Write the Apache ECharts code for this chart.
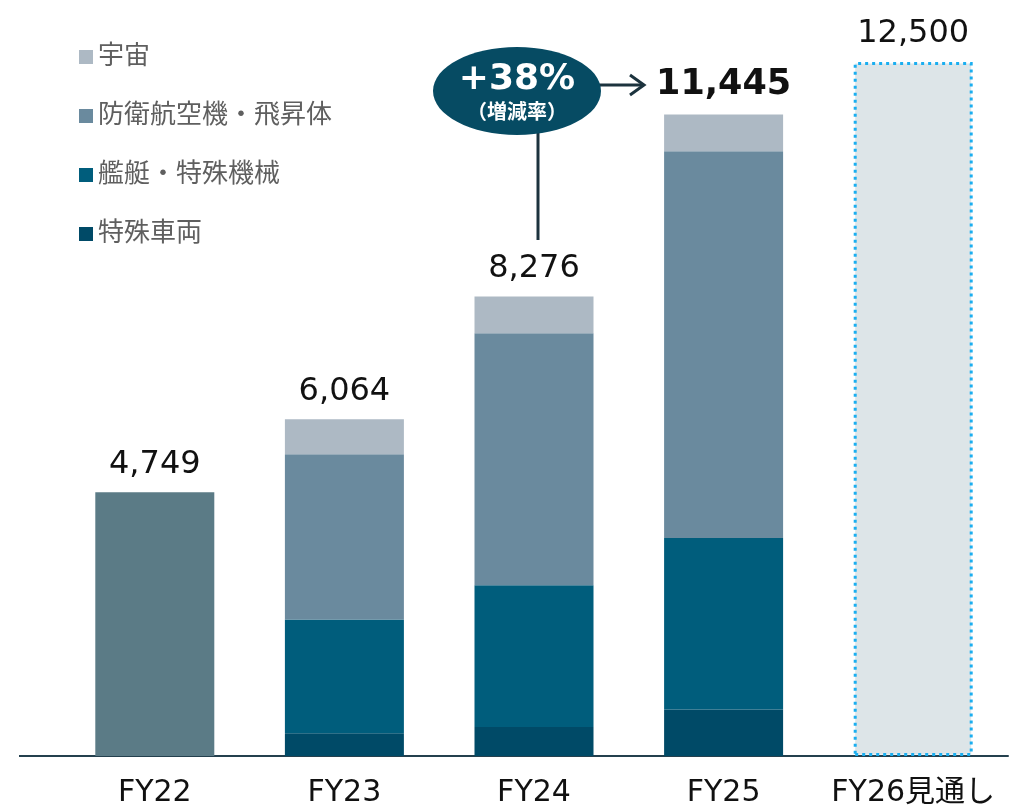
<!DOCTYPE html>
<html>
<head>
<meta charset="utf-8">
<script src="https://cdn.jsdelivr.net/npm/echarts@6/dist/echarts.min.js"></script>
<style>
  html, body { margin: 0; padding: 0; background: #fff; }
  #chart { width: 1010px; height: 806px; }
</style>
</head>
<body>
<div id="chart"></div>
<script>
// データ
var categories = ['FY22', 'FY23', 'FY24', 'FY25', 'FY26見通し'];
var tokushuSharyo = ['-', 411, 524, 838, '-'];     // 特殊車両
var kantei = ['-', 2049, 2553, 3087, '-'];         // 艦艇・特殊機械
var boei = ['-', 2974, 4540, 6969, '-'];           // 防衛航空機・飛昇体
var uchu = ['-', 631, 658, 661, '-'];              // 宇宙
var totalOnly = [4749, '-', '-', '-', 12500];      // 内訳なし
var totals = [4749, 6064, 8276, 11445, 12500];

var FONT = '"DejaVu Sans", "Noto Sans CJK JP", sans-serif';

function fmt(n) {
  return n.toLocaleString('en-US');
}

var myChart = echarts.init(document.getElementById('chart'));

var topLabel = {
  show: true,
  position: 'top',
  distance: 12,
  color: '#111',
  fontSize: 32,
  fontFamily: FONT,
  formatter: function (p) { return fmt(totals[p.dataIndex]); }
};

var option = {
  animation: false,
  textStyle: { fontFamily: FONT },
  grid: { left: 60, right: 2, top: 1, bottom: 50, outerBoundsMode: 'none' },
  legend: {
    orient: 'vertical',
    left: 74,
    top: 39,
    icon: 'rect',
    itemWidth: 14,
    itemHeight: 14,
    itemGap: 33,
    itemTextGap: 7,
    data: ['宇宙', '防衛航空機・飛昇体', '艦艇・特殊機械', '特殊車両'],
    textStyle: { color: '#5f5f5f', fontSize: 26, lineHeight: 26, fontFamily: FONT }
  },
  xAxis: {
    type: 'category',
    data: categories,
    axisTick: { show: false },
    axisLine: { lineStyle: { color: '#24404e', width: 2 } },
    axisLabel: { color: '#111', fontSize: 30, margin: 22, interval: 0, fontFamily: FONT }
  },
  yAxis: {
    type: 'value',
    min: 0,
    max: 13600,
    show: false,
    splitLine: { show: false }
  },
  series: [
    {
      name: '特殊車両', type: 'bar', stack: 's', barWidth: 119,
      itemStyle: { color: '#004a67' },
      data: tokushuSharyo
    },
    {
      name: '艦艇・特殊機械', type: 'bar', stack: 's',
      itemStyle: { color: '#005d7c' },
      data: kantei
    },
    {
      name: '防衛航空機・飛昇体', type: 'bar', stack: 's',
      itemStyle: { color: '#6a8a9e' },
      data: boei
    },
    {
      name: '宇宙', type: 'bar', stack: 's',
      itemStyle: { color: '#adb9c4' },
      label: topLabel,
      data: uchu.map(function (v, i) {
        if (i === 3) {
          return { value: v, label: { fontWeight: 'bold', fontSize: 35, distance: 12 } };
        }
        return v;
      })
    },
    {
      name: '合計', type: 'bar', stack: 's',
      label: topLabel,
      data: totalOnly.map(function (v, i) {
        if (i === 4) {
          return {
            value: v,
            itemStyle: {
              color: '#dde5e8',
              borderColor: '#1aaef0',
              borderWidth: 3,
              borderType: [3, 4]
            }
          };
        }
        return { value: v, itemStyle: { color: '#5b7b86' } };
      })
    }
  ],
  graphic: [
    // 軸線の左側延長
    { type: 'line', shape: { x1: 19, y1: 756, x2: 61, y2: 756 }, style: { stroke: '#24404e', lineWidth: 2 } },
    // 縦線
    { type: 'line', shape: { x1: 538, y1: 130, x2: 538, y2: 240 }, style: { stroke: '#1c333e', lineWidth: 3 } },
    // 矢印
    { type: 'line', shape: { x1: 598, y1: 85, x2: 643, y2: 85 }, style: { stroke: '#1c333e', lineWidth: 3 } },
    { type: 'polyline', shape: { points: [[630, 75], [644, 85], [630, 95]] }, style: { stroke: '#1c333e', lineWidth: 3, fill: null } },
    // 楕円
    { type: 'ellipse', shape: { cx: 517, cy: 91, rx: 84, ry: 44 }, style: { fill: '#064b63' } },
    {
      type: 'text', x: 517, y: 80,
      style: { text: '+38%', fill: '#fff', font: 'bold 36px ' + FONT, align: 'center', verticalAlign: 'middle' }
    },
    {
      type: 'text', x: 517, y: 114,
      style: { text: '（増減率）', fill: '#fff', font: 'bold 20px ' + FONT, align: 'center', verticalAlign: 'middle' }
    }
  ]
};

myChart.setOption(option);
window.addEventListener('resize', function () {
  myChart.resize();
});
</script>
</body>
</html>
